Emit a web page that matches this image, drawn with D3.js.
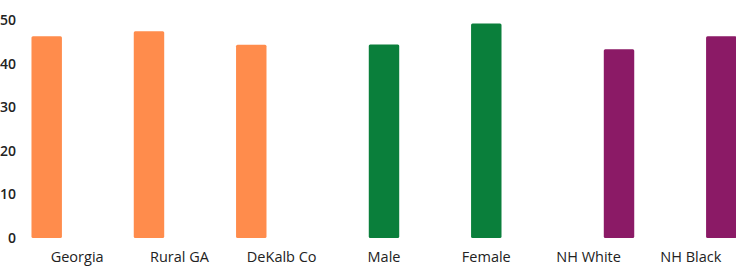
<!DOCTYPE html>
<html lang="en">
<head>
<meta charset="UTF-8" />
<title>Bar chart</title>
<style>
  body { margin: 0; background: #fff; }
  text { font-family: "Open Sans", sans-serif; fill: #222; }
</style>
</head>
<body>
<script src="https://cdn.jsdelivr.net/npm/d3@7"></script>
<div id="app"></div>
<script>
// Data
const categories = ["Georgia", "Rural GA", "DeKalb Co", "Male", "Female", "NH White", "NH Black"];
const groups = ["geo", "sex", "race"];
const groupOf = ["geo", "geo", "geo", "sex", "sex", "race", "race"];
const values = [46.3, 47.4, 44.3, 44.4, 49.2, 43.3, 46.3];
const yTicks = [0, 10, 20, 30, 40, 50];
const colors = { geo: "#FF8C4C", sex: "#0A7F3B", race: "#8B1A66" };

const w = 736, h = 268;
const svg = d3.select("#app").append("svg")
  .attr("width", w).attr("height", h);

// Scales
const x0 = d3.scaleBand()
  .domain(categories)
  .range([26, 742])
  .padding(0);
const x1 = d3.scaleBand()
  .domain(groups)
  .range([0, x0.bandwidth()])
  .paddingInner(0)
  .paddingOuter(0.18);
const y = d3.scaleLinear()
  .domain([0, 50])
  .range([238, 20]);

// Y axis labels
const yAxis = svg.append("g")
  .attr("transform", "translate(16,0)")
  .call(d3.axisLeft(y).tickValues(yTicks).tickSize(0).tickPadding(0));
yAxis.select(".domain").remove();
yAxis.selectAll("text")
  .style("font-size", "14px")
  .style("font-weight", "600")
  .attr("fill", "#333");

// Bars
const barsData = categories.map((c, i) => ({ cat: c, group: groupOf[i], value: values[i] }));
svg.selectAll("rect.bar")
  .data(barsData)
  .enter()
  .append("rect")
  .attr("class", "bar")
  .attr("x", d => x0(d.cat) + x1(d.group))
  .attr("width", x1.bandwidth())
  .attr("y", d => y(d.value))
  .attr("height", d => y(0) - y(d.value))
  .attr("rx", 1.5)
  .attr("fill", d => colors[d.group]);

// X axis labels
const xAxis = svg.append("g")
  .attr("transform", "translate(0,252)")
  .call(d3.axisBottom(x0).tickSize(0).tickPadding(0));
xAxis.select(".domain").remove();
xAxis.selectAll("text")
  .attr("dy", "0.71em")
  .style("font-size", "14.5px")
  .attr("fill", "#222");
</script>
</body>
</html>
